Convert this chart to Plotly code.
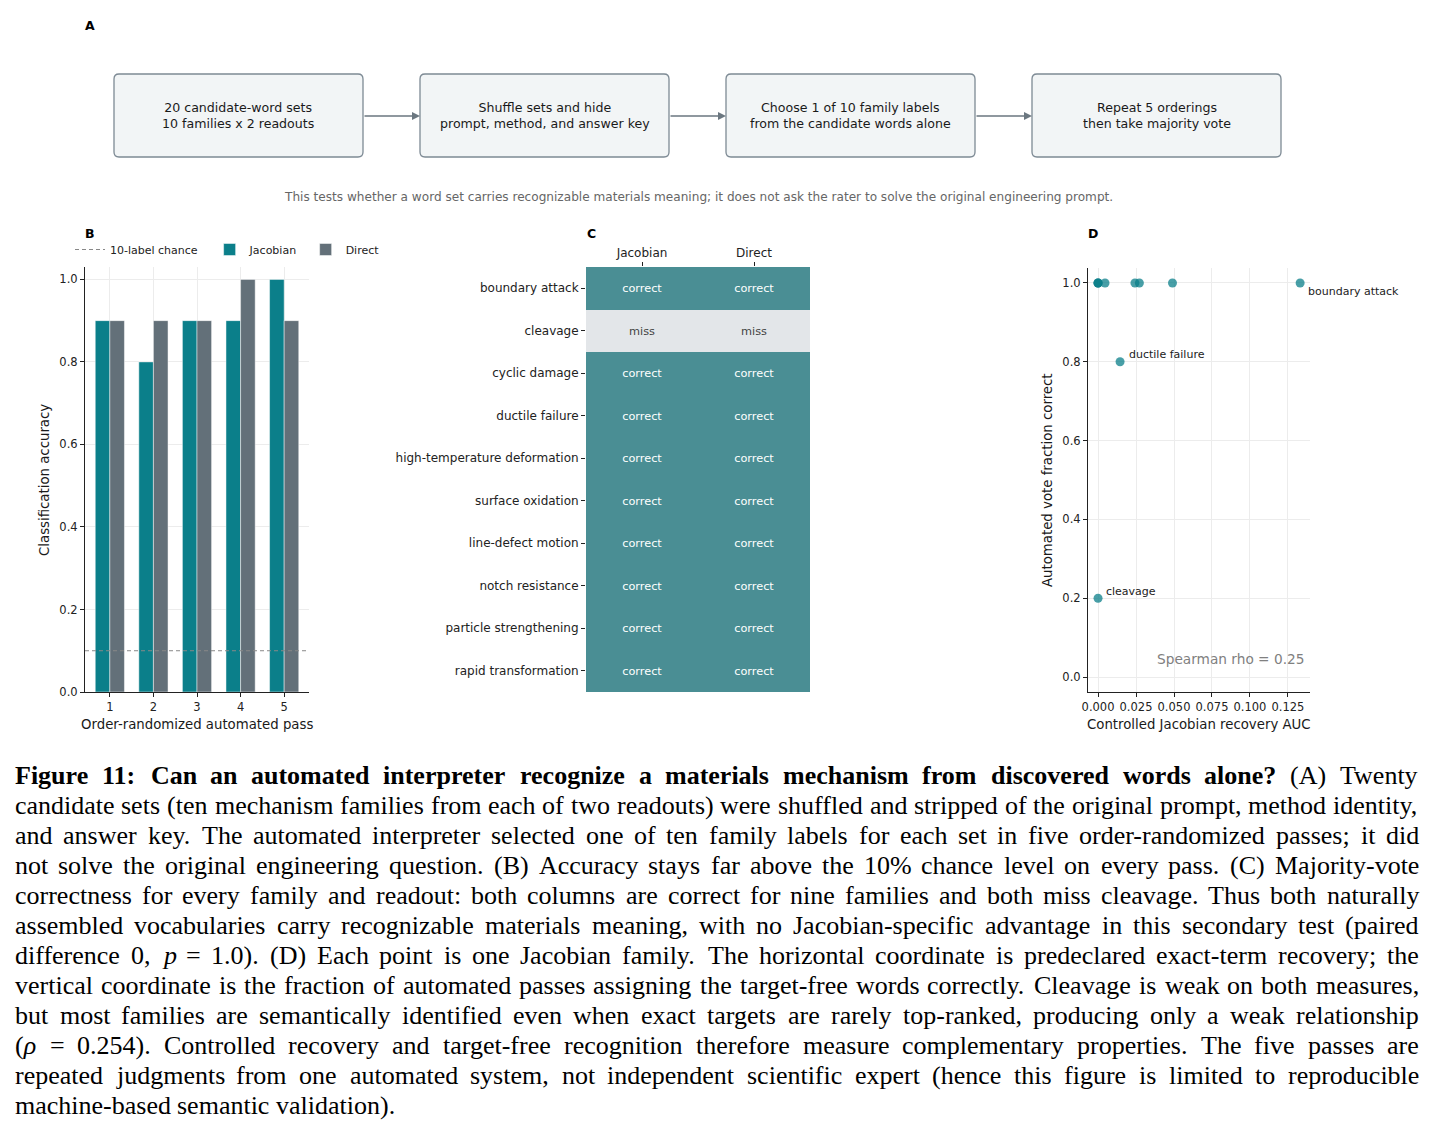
import plotly.graph_objects as go

W, H = 1439, 1134

# panel B: accuracy per order-randomized pass
passes = [1, 2, 3, 4, 5]
acc_jacobian = [0.9, 0.8, 0.9, 0.9, 1.0]
acc_direct = [0.9, 0.9, 0.9, 1.0, 0.9]
chance = 0.1

# panel C: majority-vote correctness
families = ["boundary attack", "cleavage", "cyclic damage", "ductile failure",
            "high-temperature deformation", "surface oxidation", "line-defect motion",
            "notch resistance", "particle strengthening", "rapid transformation"]
readouts = ["Jacobian", "Direct"]
correct_jacobian = [1, 0, 1, 1, 1, 1, 1, 1, 1, 1]
correct_direct = [1, 0, 1, 1, 1, 1, 1, 1, 1, 1]

# panel D: recovery AUC vs vote fraction (Jacobian families)
auc_jacobian = [0.133, 0.0, 0.0, 0.0145, 0.0, 0.0046, 0.0243, 0.0, 0.0272, 0.049]
vote_fraction = [1.0, 0.2, 1.0, 0.8, 1.0, 1.0, 1.0, 1.0, 1.0, 1.0]
labelled = ["boundary attack", "ductile failure", "cleavage"]
spearman_rho = 0.25

# panel A: pipeline
steps = ["20 candidate-word sets<br>10 families x 2 readouts",
         "Shuffle sets and hide<br>prompt, method, and answer key",
         "Choose 1 of 10 family labels<br>from the candidate words alone",
         "Repeat 5 orderings<br>then take majority vote"]
pipeline_note = ("This tests whether a word set carries recognizable materials meaning; "
                 "it does not ask the rater to solve the original engineering prompt.")

caption_lines = [
    "Figure 11: Can an automated interpreter recognize a materials mechanism from discovered words alone? (A) Twenty",
    "candidate sets (ten mechanism families from each of two readouts) were shuffled and stripped of the original prompt, method identity,",
    "and answer key. The automated interpreter selected one of ten family labels for each set in five order-randomized passes; it did",
    "not solve the original engineering question. (B) Accuracy stays far above the 10% chance level on every pass. (C) Majority-vote",
    "correctness for every family and readout: both columns are correct for nine families and both miss cleavage. Thus both naturally",
    "assembled vocabularies carry recognizable materials meaning, with no Jacobian-specific advantage in this secondary test (paired",
    "difference 0, p = 1.0). (D) Each point is one Jacobian family. The horizontal coordinate is predeclared exact-term recovery; the",
    "vertical coordinate is the fraction of automated passes assigning the target-free words correctly. Cleavage is weak on both measures,",
    "but most families are semantically identified even when exact targets are rarely top-ranked, producing only a weak relationship",
    "(ρ = 0.254). Controlled recovery and target-free recognition therefore measure complementary properties. The five passes are",
    "repeated judgments from one automated system, not independent scientific expert (hence this figure is limited to reproducible",
    "machine-based semantic validation).",
]
bold_words_first_line = 14
italic_words = {"p": "<i>p</i>", "(ρ": "(<i>ρ</i>"}

TEAL = "#0b7f8a"
GREY = "#637079"
SANS = "DejaVu Sans"
SERIF = "Liberation Serif"
CAP_SIZE = 26
NBSP = "\u00a0"

# Times advance widths (1/1000 em) used to justify the caption
REG = dict(zip("abcdefghijklmnopqrstuvwxyz",
               [444, 500, 444, 500, 444, 333, 500, 500, 278, 278, 500, 278, 778, 500, 500, 500,
                500, 333, 389, 278, 500, 500, 722, 500, 500, 444]))
REG.update(dict(zip("ABCDEFGHIJKLMNOPQRSTUVWXYZ",
                    [722, 667, 667, 722, 611, 556, 722, 722, 333, 389, 722, 611, 889, 722, 722,
                     556, 722, 667, 556, 611, 722, 722, 944, 722, 722, 611])))
REG.update({c: 500 for c in "0123456789"})
REG.update({"(": 333, ")": 333, ",": 250, ".": 250, ":": 278, ";": 278, "-": 333, "%": 833,
            "=": 564, "?": 444, "ρ": 500, "'": 333, " ": 250})
BOLD = dict(zip("abcdefghijklmnopqrstuvwxyz",
                [500, 556, 444, 556, 444, 333, 500, 556, 278, 333, 556, 278, 833, 556, 500, 556,
                 556, 444, 389, 333, 556, 500, 722, 500, 500, 444]))
BOLD.update({"F": 611, "C": 722, ":": 333, "?": 500, " ": 250})
BOLD.update({c: 500 for c in "0123456789"})


def word_width(word, bold=False):
    table = BOLD if bold else REG
    return sum(table.get(ch, 500) for ch in word) * CAP_SIZE / 1000


def px(x):
    return x / W


def py(y):
    return 1 - y / H


def rounded_box(x0, y0, x1, y1, r=5):
    return (f"M {px(x0 + r)},{py(y0)} L {px(x1 - r)},{py(y0)} "
            f"Q {px(x1)},{py(y0)} {px(x1)},{py(y0 + r)} L {px(x1)},{py(y1 - r)} "
            f"Q {px(x1)},{py(y1)} {px(x1 - r)},{py(y1)} L {px(x0 + r)},{py(y1)} "
            f"Q {px(x0)},{py(y1)} {px(x0)},{py(y1 - r)} L {px(x0)},{py(y0 + r)} "
            f"Q {px(x0)},{py(y0)} {px(x0 + r)},{py(y0)} Z")


def note(x, y, text, size, color="#1a1a1a", family=SANS, **kw):
    d = dict(x=px(x), y=py(y), xref="paper", yref="paper", text=text, showarrow=False,
             xanchor="center", yanchor="middle", font=dict(size=size, family=family, color=color))
    d.update(kw)
    return d


fig = go.Figure()

# --- B: bars
fig.add_trace(go.Bar(x=passes, y=acc_jacobian, name="Jacobian" + NBSP, marker_color=TEAL,
                     marker_line=dict(color="rgba(255,255,255,0.6)", width=0.8),
                     legendrank=2, xaxis="x", yaxis="y"))
fig.add_trace(go.Bar(x=passes, y=acc_direct, name="Direct", marker_color=GREY,
                     marker_line=dict(color="rgba(255,255,255,0.6)", width=0.8),
                     legendrank=3, xaxis="x", yaxis="y"))

# --- C: heatmap
z = [[j, d] for j, d in zip(correct_jacobian, correct_direct)]
txt = [["correct" if v else "miss" for v in row] for row in z]
fig.add_trace(go.Heatmap(z=z, x=readouts, y=families, text=txt, texttemplate="%{text}",
                         textfont=dict(size=11.3, family=SANS),
                         colorscale=[[0, "#e3e6e9"], [1, "#4a8e94"]], zmin=0, zmax=1,
                         showscale=False, hoverinfo="skip",
                         xaxis="x2", yaxis="y2", showlegend=False))

# --- D: scatter
fig.add_trace(go.Scatter(x=auc_jacobian, y=vote_fraction, mode="markers",
                         marker=dict(color=TEAL, size=9, opacity=0.75),
                         xaxis="x3", yaxis="y3", showlegend=False))

ann = []
offsets = {"boundary attack": (6, -9), "ductile failure": (7, 7), "cleavage": (6, 7)}
for fam in labelled:
    i = families.index(fam)
    dx, dy = offsets[fam]
    ann.append(dict(x=auc_jacobian[i], y=vote_fraction[i], xref="x3", yref="y3", text=fam,
                    showarrow=False, xanchor="left", yanchor="middle", xshift=dx, yshift=dy,
                    font=dict(size=11, family=SANS, color="#222")))
ann.append(note(1306, 659, f"Spearman rho = {spearman_rho:.2f}", 13.7, "#808080", xanchor="right"))

# --- shapes: chance line (in legend) and pipeline boxes
shapes = [dict(type="line", xref="x domain", yref="y", x0=0, x1=1, y0=chance, y1=chance,
               line=dict(color="#888888", width=1, dash="4px,3px"),
               showlegend=True, name="10-label chance" + NBSP * 2, legendrank=1)]
box_x = [114, 420, 726, 1032]
box_w = 249
for bx, label in zip(box_x, steps):
    shapes.append(dict(type="path", xref="paper", yref="paper",
                       path=rounded_box(bx, 74, bx + box_w, 157),
                       fillcolor="#f2f5f6", line=dict(color="#7d8a94", width=1.3), layer="below"))
    ann.append(note(bx + box_w / 2, 115, label, 12.6))
for bx in box_x[1:]:
    ann.append(dict(x=px(bx), y=py(116), ax=-57, ay=0, xref="paper", yref="paper",
                    axref="pixel", ayref="pixel", text="", showarrow=True, arrowhead=2,
                    arrowsize=1, arrowwidth=1.6, arrowcolor="#6b7780", standoff=0))
ann.append(note(698, 197, pipeline_note, 12.1, "#666666"))

# panel letters
for letter, lx, ly in [("A", 90, 26), ("B", 90, 234), ("C", 591, 234), ("D", 1093, 234)]:
    ann.append(note(lx, ly, f"<b>{letter}</b>", 12.5, "#000"))

# axis titles
ann += [
    note(197, 724, "Order-randomized automated pass", 13.3),
    note(44, 480, "Classification accuracy", 13.3, textangle=-90),
    note(1199, 724, "Controlled Jacobian recovery AUC", 13.3),
    note(1047, 480, "Automated vote fraction correct", 13.3, textangle=-90),
]

# caption, justified word by word between x=16 and x=1420
left, right = 16, 1420
for k, line in enumerate(caption_lines):
    words = line.split(" ")
    bold = [k == 0 and i < bold_words_first_line for i in range(len(words))]
    widths = [word_width(w, b) for w, b in zip(words, bold)]
    last = k == len(caption_lines) - 1
    gap = word_width(" ") if last else (right - left - sum(widths)) / (len(words) - 1)
    x = left
    for w, b, wd in zip(words, bold, widths):
        shown = italic_words.get(w, w)
        if b:
            shown = f"<b>{shown}</b>"
        ann.append(note(x - 3, 775 + 30 * k, shown, CAP_SIZE, "#000", family=SERIF,
                        xanchor="left"))
        x += wd + gap

axis_common = dict(showline=True, linecolor="#222", linewidth=1.1, ticks="outside", ticklen=4,
                   tickcolor="#222", tickfont=dict(size=11.5, family=SANS, color="#222"),
                   gridcolor="#ececec", gridwidth=1, zeroline=False, automargin=False)
cat_axis = dict(showline=False, ticks="outside", ticklen=4, tickcolor="#222",
                tickfont=dict(size=12, family=SANS, color="#222"), showgrid=False,
                zeroline=False, automargin=False)

fig.update_layout(
    width=W, height=H, margin=dict(l=0, r=0, t=0, b=0, autoexpand=False),
    paper_bgcolor="white", plot_bgcolor="white",
    barmode="group", bargap=0.33, bargroupgap=0,
    font=dict(family=SANS, size=11, color="#222"),
    xaxis=dict(domain=[px(85), px(309)], range=[0.43, 5.57], tickvals=passes, showgrid=True,
               anchor="y", **axis_common),
    yaxis=dict(domain=[py(692), py(267)], range=[0, 1.03], tickvals=[0, 0.2, 0.4, 0.6, 0.8, 1.0],
               tickformat=".1f", showgrid=True, anchor="x", **axis_common),
    xaxis2=dict(domain=[px(586), px(810)], side="top", anchor="y2", **cat_axis),
    yaxis2=dict(domain=[py(692), py(267)], autorange="reversed", anchor="x2", **cat_axis),
    xaxis3=dict(domain=[px(1088), px(1310)], range=[-0.0066, 0.1395],
                tickvals=[0, 0.025, 0.05, 0.075, 0.1, 0.125], tickformat=".3f", showgrid=True,
                anchor="y3", **axis_common),
    yaxis3=dict(domain=[py(692), py(268)], range=[-0.038, 1.038],
                tickvals=[0, 0.2, 0.4, 0.6, 0.8, 1.0], tickformat=".1f", showgrid=True,
                anchor="x3", **axis_common),
    legend=dict(orientation="h", x=px(70), y=py(235), xanchor="left", yanchor="top",
                font=dict(size=11, family=SANS, color="#222"), bgcolor="rgba(0,0,0,0)",
                itemwidth=30, traceorder="normal"),
    shapes=shapes,
    annotations=ann,
)

page_css = ("document.documentElement.style.overflow='hidden';"
            "document.body.style.margin='0';document.body.style.overflow='hidden';"
            "document.body.style.height='1134px';")
fig.write_html("out.html", config={"displayModeBar": False}, post_script=page_css)
